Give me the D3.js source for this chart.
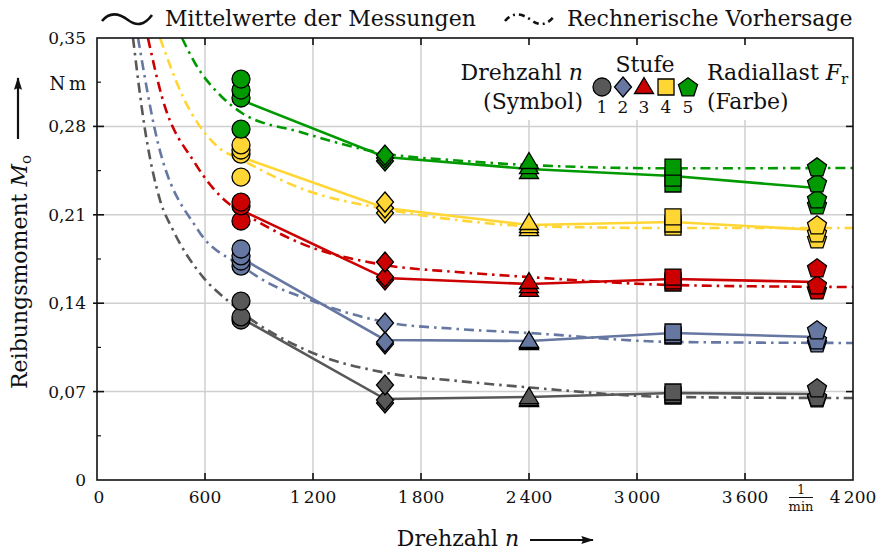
<!DOCTYPE html>
<html><head><meta charset="utf-8">
<script src="https://cdn.jsdelivr.net/npm/d3@7"></script>
<style>
body{margin:0;background:#fff}
svg text{font-family:"DejaVu Serif","Liberation Serif",serif;fill:#111}
</style>
</head><body>
<svg id="chart" width="886" height="554"></svg>
<script>
// Drehzahlstufen (1/min) und Radiallaststufen
const drehzahlen = [800, 1600, 2400, 3200, 4000];
const stufen = ["1", "2", "3", "4", "5"];
const farben = ["#585858", "#6677a1", "#cc0000", "#ffd633", "#009a00"];

const xTicks = [0, 600, 1200, 1800, 2400, 3000, 3600, 4200];
const xTickLabels = ["0", "600", "1\u2009200", "1\u2009800", "2\u2009400", "3\u2009000", "3\u2009600", "4\u2009200"];
const yTicks = [0, 0.07, 0.14, 0.21, 0.28, 0.35];
const yTickLabels = ["0", "0,07", "0,14", "0,21", "0,28", "0,35"];

// Einzelmessungen je Radiallast (Farbe), je Drehzahl (Symbol), in N m
const messungLast1 = [[0.1417, 0.1291, 0.1267], [0.0752, 0.0633, 0.0610], [0.0657, 0.0641, 0.0633], [0.0697, 0.0673, 0.0665], [0.0729, 0.0657, 0.0650]];
const messungLast2 = [[0.1829, 0.1774, 0.1734, 0.1694], [0.1243, 0.1093, 0.1077], [0.1101, 0.1093, 0.1085], [0.1172, 0.1148, 0.1140], [0.1188, 0.1108, 0.1085]];
const messungLast3 = [[0.2201, 0.2170, 0.2051], [0.1726, 0.1608, 0.1584], [0.1568, 0.1536, 0.1505], [0.1607, 0.1576, 0.1560], [0.1679, 0.1544, 0.1504]];
const messungLast4 = [[0.2653, 0.2613, 0.2581, 0.2399], [0.2201, 0.2154, 0.2114], [0.2035, 0.2011, 0.1987], [0.2083, 0.2027, 0.2003], [0.2019, 0.1956, 0.1908]];
const messungLast5 = [[0.3175, 0.3088, 0.3025, 0.2779], [0.2573, 0.2550, 0.2526], [0.2518, 0.2478, 0.2439], [0.2478, 0.2391, 0.2344], [0.2478, 0.2352, 0.2225, 0.2178]];

// Mittelwerte der Messungen
const mittelLast1 = [0.1283, 0.0641, 0.0657, 0.0689, 0.0681];
const mittelLast2 = [0.1758, 0.1109, 0.1101, 0.1164, 0.1132];
const mittelLast3 = [0.2138, 0.1599, 0.1552, 0.1592, 0.1568];
const mittelLast4 = [0.2558, 0.2154, 0.2019, 0.2043, 0.1980];
const mittelLast5 = [0.3009, 0.2558, 0.2463, 0.2407, 0.2312];

// Rechnerische Vorhersage (Stützstellen)
const vorhersageN1 = [200, 267, 350, 422, 589, 722, 811, 1144, 1600, 2000, 2400, 3200, 4200];
const vorhersageM1 = [0.35, 0.2771, 0.2217, 0.1980, 0.1607, 0.1425, 0.1320, 0.1040, 0.0850, 0.0785, 0.0733, 0.0657, 0.0649];
const vorhersageN2 = [228, 322, 561, 805, 922, 1183, 1600, 2000, 2400, 3200, 4200];
const vorhersageM2 = [0.35, 0.2771, 0.1980, 0.1694, 0.1584, 0.1425, 0.1251, 0.1196, 0.1164, 0.1093, 0.1085];
const vorhersageN3 = [283, 361, 544, 728, 805, 1128, 1600, 2000, 2400, 3200, 4200];
const vorhersageM3 = [0.35, 0.3033, 0.2510, 0.2193, 0.2122, 0.1877, 0.1702, 0.1647, 0.1607, 0.1544, 0.1528];
const vorhersageN4 = [350, 478, 672, 805, 1128, 1600, 2000, 2400, 3200, 4200];
const vorhersageM4 = [0.35, 0.3033, 0.2637, 0.2534, 0.2312, 0.2146, 0.2059, 0.2011, 0.1995, 0.1995];
const vorhersageN5 = [472, 544, 694, 805, 1128, 1600, 2000, 2400, 3200, 4200];
const vorhersageM5 = [0.35, 0.3302, 0.3033, 0.2906, 0.2756, 0.2585, 0.2530, 0.2494, 0.2468, 0.2471];

const messungen = [messungLast1, messungLast2, messungLast3, messungLast4, messungLast5];
const mittel = [mittelLast1, mittelLast2, mittelLast3, mittelLast4, mittelLast5];
const vorhersage = [[vorhersageN1, vorhersageM1], [vorhersageN2, vorhersageM2], [vorhersageN3, vorhersageM3], [vorhersageN4, vorhersageM4], [vorhersageN5, vorhersageM5]];

const svg = d3.select("#chart");
const L = 97, R = 853, T = 38, B = 480;
const x = d3.scaleLinear().domain([0, 4200]).range([L, R]);
const y = d3.scaleLinear().domain([0, 0.35]).range([B, T]);

const defs = svg.append("defs");
defs.append("clipPath").attr("id", "plotclip")
  .append("rect").attr("x", L).attr("y", T).attr("width", R - L).attr("height", B - T);
defs.append("marker").attr("id", "pfeil")
  .attr("viewBox", "0 0 14 10").attr("refX", 13).attr("refY", 5)
  .attr("markerWidth", 15).attr("markerHeight", 9).attr("markerUnits", "userSpaceOnUse")
  .attr("orient", "auto")
  .append("path").attr("d", "M0,0.5 L14,5 L0,9.5 L2,5 Z").attr("fill", "#111");

// Gitter
const grid = svg.append("g").attr("stroke", "#cfcfcf").attr("stroke-width", 1.5);
grid.selectAll(".gx").data(xTicks.slice(1, -1)).join("line")
  .attr("x1", d => x(d)).attr("x2", d => x(d)).attr("y1", T).attr("y2", B);
grid.selectAll(".gy").data(yTicks.slice(1, -1)).join("line")
  .attr("x1", L).attr("x2", R).attr("y1", d => y(d)).attr("y2", d => y(d));

// Legendenfläche im Diagramm
svg.append("rect").attr("x", 452).attr("y", 40).attr("width", 399).attr("height", 80).attr("fill", "#fff");

const plot = svg.append("g").attr("clip-path", "url(#plotclip)");

// Vorhersagekurven (Strich-Punkt)
const kurve = d3.line().x(d => x(d[0])).y(d => y(d[1])).curve(d3.curveMonotoneX);
vorhersage.forEach((v, i) => {
  const pts = v[0].map((n, j) => [n, v[1][j]]);
  plot.append("path").attr("d", kurve(pts)).attr("fill", "none")
    .attr("stroke", farben[i]).attr("stroke-width", 2.6)
    .attr("stroke-dasharray", "10,5,2.5,5");
});

// Mittelwertlinien
const linie = d3.line().x((d, j) => x(drehzahlen[j])).y(d => y(d));
mittel.forEach((m, i) => {
  plot.append("path").attr("d", linie(m)).attr("fill", "none")
    .attr("stroke", farben[i]).attr("stroke-width", 2.6);
});

// Symbole je Drehzahlstufe
function symbolPfad(k) {
  if (k === 0) { const r = 9; return `M${r},0A${r},${r} 0 1,1 ${-r},0A${r},${r} 0 1,1 ${r},0Z`; }
  if (k === 1) return "M0,-10L8.5,0L0,10L-8.5,0Z";
  if (k === 2) return "M0,-9.5L9.5,6.5L-9.5,6.5Z";
  if (k === 3) return "M-8,-8H8V8H-8Z";
  const r = 10;
  return d3.range(5).map(j => {
    const a = -Math.PI / 2 + j * 2 * Math.PI / 5;
    return (j ? "L" : "M") + (r * Math.cos(a)).toFixed(2) + "," + (r * Math.sin(a) + 0.8).toFixed(2);
  }).join("") + "Z";
}

const marks = svg.append("g");
messungen.forEach((last, i) => {
  last.forEach((werte, k) => {
    const sortiert = werte.slice().sort(d3.ascending);
    marks.selectAll(null).data(sortiert).join("path")
      .attr("d", symbolPfad(k))
      .attr("transform", d => `translate(${x(drehzahlen[k])},${y(d)})`)
      .attr("fill", farben[i]).attr("stroke", "#000").attr("stroke-width", 1.3);
  });
});

// Rahmen und Achsen
svg.append("rect").attr("x", L).attr("y", T).attr("width", R - L).attr("height", B - T)
  .attr("fill", "none").attr("stroke", "#111").attr("stroke-width", 1.6);
const ticks = svg.append("g").attr("stroke", "#111").attr("stroke-width", 1.6);
xTicks.slice(1, -1).forEach(t => {
  ticks.append("line").attr("x1", x(t)).attr("x2", x(t)).attr("y1", B).attr("y2", B - 7);
  ticks.append("line").attr("x1", x(t)).attr("x2", x(t)).attr("y1", T).attr("y2", T + 7);
});
yTicks.slice(1, -1).forEach(t => {
  ticks.append("line").attr("x1", L - 4).attr("x2", L + 7).attr("y1", y(t)).attr("y2", y(t));
  ticks.append("line").attr("x1", R).attr("x2", R - 7).attr("y1", y(t)).attr("y2", y(t));
});
d3.range(0.035, 0.35, 0.07).forEach(t => {
  ticks.append("line").attr("x1", L).attr("x2", L + 4).attr("y1", y(t)).attr("y2", y(t)).attr("stroke-width", 1.2);
});

// Achsbeschriftung
svg.append("g").selectAll("text").data(xTicks).join("text")
  .attr("x", d => x(d) + (d === 0 ? 2 : 0)).attr("y", 503)
  .attr("text-anchor", "middle").attr("font-size", 17)
  .text((d, i) => xTickLabels[i]);
svg.append("g").selectAll("text").data(yTicks).join("text")
  .attr("x", 86).attr("y", d => y(d) + 6)
  .attr("text-anchor", "end").attr("font-size", 17)
  .text((d, i) => yTickLabels[i]);
svg.append("text").attr("x", 86).attr("y", 90).attr("text-anchor", "end").attr("font-size", 18).text("N\u2009m");

// Einheit 1/min
svg.append("text").attr("x", 801).attr("y", 494).attr("text-anchor", "middle").attr("font-size", 12).text("1");
svg.append("line").attr("x1", 789).attr("x2", 813).attr("y1", 497.5).attr("y2", 497.5).attr("stroke", "#111").attr("stroke-width", 1);
svg.append("text").attr("x", 801).attr("y", 511).attr("text-anchor", "middle").attr("font-size", 13).text("min");

// x-Achsentitel mit Pfeil
const xt = svg.append("text").attr("x", 458).attr("y", 546).attr("text-anchor", "middle").attr("font-size", 22);
xt.append("tspan").text("Drehzahl ");
xt.append("tspan").attr("font-style", "italic").text("n");
svg.append("line").attr("x1", 530).attr("x2", 593).attr("y1", 540).attr("y2", 540)
  .attr("stroke", "#111").attr("stroke-width", 2.2).attr("marker-end", "url(#pfeil)");

// y-Achsentitel mit Pfeil
const yt = svg.append("text").attr("transform", "translate(27,272) rotate(-90)")
  .attr("text-anchor", "middle").attr("font-size", 22);
yt.append("tspan").text("Reibungsmoment ");
yt.append("tspan").attr("font-style", "italic").text("M");
yt.append("tspan").attr("font-size", 15).attr("dy", 4).text("o");
svg.append("line").attr("x1", 18).attr("x2", 18).attr("y1", 139).attr("y2", 78)
  .attr("stroke", "#111").attr("stroke-width", 2.2).attr("marker-end", "url(#pfeil)");

// Legende oben
svg.append("path").attr("d", "M102,21 C110,11 120,14 128,20 S144,26 152,15")
  .attr("fill", "none").attr("stroke", "#111").attr("stroke-width", 2.6);
svg.append("text").attr("x", 165).attr("y", 26).attr("font-size", 22).text("Mittelwerte der Messungen");
svg.append("path").attr("d", "M505,21 C513,11 523,14 531,20 S547,26 555,15")
  .attr("fill", "none").attr("stroke", "#111").attr("stroke-width", 2.6).attr("stroke-dasharray", "6,4,2,4");
svg.append("text").attr("x", 567).attr("y", 26).attr("font-size", 22).text("Rechnerische Vorhersage");

// Legende im Diagramm
const lg = svg.append("g");
const lt1 = lg.append("text").attr("x", 583).attr("y", 80).attr("text-anchor", "end").attr("font-size", 22);
lt1.append("tspan").text("Drehzahl ");
lt1.append("tspan").attr("font-style", "italic").text("n");
lg.append("text").attr("x", 583).attr("y", 109).attr("text-anchor", "end").attr("font-size", 22).text("(Symbol)");
lg.append("text").attr("x", 645).attr("y", 72).attr("text-anchor", "middle").attr("font-size", 22).text("Stufe");
const lt2 = lg.append("text").attr("x", 707).attr("y", 80).attr("font-size", 22);
lt2.append("tspan").text("Radiallast ");
lt2.append("tspan").attr("font-style", "italic").text("F");
lt2.append("tspan").attr("font-size", 15).attr("dy", 4).text("r");
lg.append("text").attr("x", 707).attr("y", 109).attr("font-size", 22).text("(Farbe)");
const legX = [602, 623, 644, 666, 688];
stufen.forEach((s, k) => {
  lg.append("path").attr("d", symbolPfad(k)).attr("transform", `translate(${legX[k]},87)`)
    .attr("fill", farben[k]).attr("stroke", "#000").attr("stroke-width", 1.3);
  lg.append("text").attr("x", legX[k]).attr("y", 113).attr("text-anchor", "middle").attr("font-size", 17).text(s);
});
</script>
</body></html>
